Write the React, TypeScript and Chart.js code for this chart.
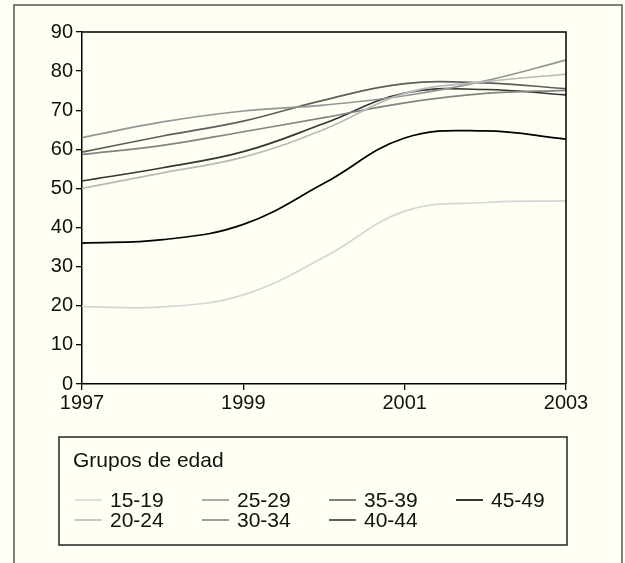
import React, { useEffect, useRef } from 'react';
import { Chart, registerables } from 'chart.js';

Chart.register(...registerables);

// ---- Data ----
const years = [1997, 1998, 1999, 2000, 2001, 2002, 2003];
const seriesLabels = ['15-19', '20-24', '25-29', '30-34', '35-39', '40-44', '45-49'];
const s15_19 = [19.8, 19.7, 22.8, 32.4, 44.2, 46.4, 46.8];
const s20_24 = [50.0, 54.0, 58.0, 65.1, 74.3, 77.3, 79.2];
const s25_29 = [63.0, 67.0, 69.8, 71.3, 73.7, 77.5, 82.8];
const s30_34 = [58.7, 61.0, 64.5, 68.1, 71.9, 74.3, 75.1];
const s35_39 = [59.3, 63.4, 67.2, 72.6, 76.8, 77.0, 75.5];
const s40_44 = [51.9, 55.3, 59.4, 66.6, 74.4, 75.3, 73.9];
const s45_49 = [36.0, 36.9, 40.8, 51.3, 62.9, 64.7, 62.6];
const seriesValues = [s15_19, s20_24, s25_29, s30_34, s35_39, s40_44, s45_49];
const seriesColors = ['#d6d6d6', '#b9b9b9', '#959595', '#838383', '#5e5e5e', '#363636', '#000000'];
const xTickLabels = [1997, 1999, 2001, 2003];
const yMin = 0;
const yMax = 90;
const yStep = 10;
const legendTitle = 'Grupos de edad';

const FONT = '"Liberation Sans", Arial, Helvetica, sans-serif';
const BG = '#fffff3';

const W = 625;
const H = 563;

const backgroundPlugin = {
  id: 'bgFrame',
  beforeDraw(chart: any) {
    const ctx = chart.ctx;
    ctx.save();
    ctx.fillStyle = BG;
    ctx.fillRect(0, 0, chart.width, chart.height);
    ctx.strokeStyle = '#555555';
    ctx.lineWidth = 1.5;
    ctx.beginPath();
    ctx.moveTo(14, chart.height + 2);
    ctx.lineTo(14, 5);
    ctx.lineTo(622, 5);
    ctx.lineTo(622, chart.height + 2);
    ctx.stroke();
    ctx.restore();
  },
};

const boxPlugin = {
  id: 'plotBox',
  afterDatasetsDraw(chart: any) {
    const { ctx, chartArea } = chart;
    ctx.save();
    ctx.strokeStyle = '#000';
    ctx.lineWidth = 1.5;
    ctx.beginPath();
    ctx.moveTo(chartArea.left, chartArea.top);
    ctx.lineTo(chartArea.right, chartArea.top);
    ctx.lineTo(chartArea.right, chartArea.bottom);
    ctx.stroke();
    ctx.restore();
  },
};

const legendPlugin = {
  id: 'boxLegend',
  afterDraw(chart: any) {
    const ctx = chart.ctx;
    const bx = 59, by = 437, bw = 508, bh = 108;
    ctx.save();
    ctx.strokeStyle = '#222';
    ctx.lineWidth = 1.5;
    ctx.strokeRect(bx, by, bw, bh);
    ctx.fillStyle = '#111';
    ctx.font = `21px ${FONT}`;
    ctx.textBaseline = 'middle';
    ctx.textAlign = 'left';
    ctx.fillText(legendTitle, 73, 461);
    const colStart = 75;
    const colStep = 127;
    const rowY = [500, 520];
    chart.data.datasets.forEach((ds: any, i: number) => {
      const col = Math.floor(i / 2);
      const row = i % 2;
      const x = colStart + col * colStep;
      const y = rowY[row];
      ctx.strokeStyle = ds.borderColor;
      ctx.lineWidth = 1.6;
      ctx.beginPath();
      ctx.moveTo(x, y);
      ctx.lineTo(x + 27, y);
      ctx.stroke();
      ctx.fillStyle = '#111';
      ctx.fillText(ds.label, x + 35, y + 1);
    });
    ctx.restore();
  },
};

export default function App() {
  const ref = useRef<HTMLCanvasElement | null>(null);

  useEffect(() => {
    document.body.style.margin = '0';
    document.body.style.background = BG;
    const canvas = ref.current;
    if (!canvas) return;
    const datasets = seriesLabels.map((label, i) => ({
      label,
      data: years.map((yr, j) => ({ x: yr, y: seriesValues[i][j] })),
      borderColor: seriesColors[i],
      backgroundColor: seriesColors[i],
      borderWidth: 1.7,
      pointRadius: 0,
      tension: 0.4,
      fill: false,
    }));
    const chart = new Chart(canvas, {
      type: 'line',
      data: { datasets },
      options: {
        responsive: false,
        animation: false,
        devicePixelRatio: 1,
        layout: { padding: { left: 0, top: 32, right: W - 566, bottom: 0 } },
        plugins: {
          legend: { display: false },
          tooltip: { enabled: false },
        },
        scales: {
          x: {
            type: 'linear',
            min: years[0],
            max: years[years.length - 1],
            afterFit: (s: any) => { s.height = H - 384; },
            afterBuildTicks: (s: any) => { s.ticks = xTickLabels.map((v) => ({ value: v })); },
            ticks: {
              callback: (v: any) => String(v),
              font: { family: FONT, size: 20 },
              color: '#111',
              padding: 1,
              maxRotation: 0,
            },
            grid: { display: true, drawOnChartArea: false, drawTicks: true, tickLength: 6, color: '#000', lineWidth: 1.3 },
            border: { display: true, color: '#000', width: 1.5 },
          },
          y: {
            min: yMin,
            max: yMax,
            afterFit: (s: any) => { s.width = 82; },
            ticks: {
              stepSize: yStep,
              font: { family: FONT, size: 20 },
              color: '#111',
              padding: 3,
            },
            grid: { display: true, drawOnChartArea: false, drawTicks: true, tickLength: 6, color: '#000', lineWidth: 1.3 },
            border: { display: true, color: '#000', width: 1.5 },
          },
        },
      },
      plugins: [backgroundPlugin, boxPlugin, legendPlugin],
    });
    return () => chart.destroy();
  }, []);

  return (
    <div style={{ position: 'absolute', left: 0, top: 0, width: W, height: H, background: BG }}>
      <canvas ref={ref} width={W} height={H} style={{ display: 'block', width: W, height: H }} />
    </div>
  );
}
